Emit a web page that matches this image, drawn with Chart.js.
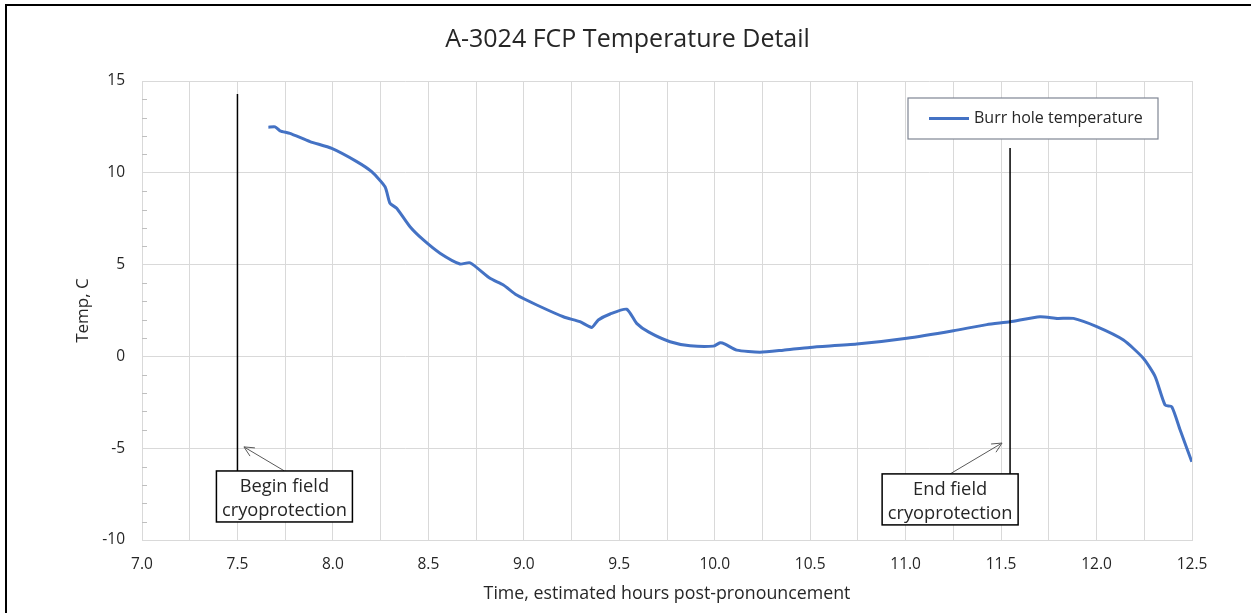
<!DOCTYPE html>
<html>
<head>
    <title>A-3024 FCP Temperature Detail</title>
    <script src="https://cdn.jsdelivr.net/npm/chart.js"></script>
    <style>
        body { margin: 0; background: #fff; overflow: hidden; }
        #frame { position: absolute; left: 5px; top: 4px; width: 1400px; height: 800px;
                 border-left: 2px solid #000; border-top: 2px solid #000; pointer-events: none; }
    </style>
</head>
<body>
    <canvas id="chart" width="1251" height="613"></canvas>
    <div id="frame"></div>

    <script>
// Hours post-pronouncement and burr hole temperature (C)
const hours = [7.662, 7.697, 7.723, 7.775, 7.880, 7.994, 8.125, 8.203, 8.273, 8.299,
    8.334, 8.404, 8.474, 8.561, 8.666, 8.718, 8.823, 8.893, 8.963, 9.068,
    9.207, 9.294, 9.356, 9.390, 9.452, 9.539, 9.591, 9.655, 9.766, 9.871,
    9.993, 10.028, 10.054, 10.115, 10.237, 10.359, 10.499, 10.744, 11.006, 11.250,
    11.425, 11.547, 11.704, 11.795, 11.879, 12.001, 12.141, 12.245, 12.307, 12.359,
    12.394, 12.438, 12.499];
const tempC = [12.48, 12.50, 12.29, 12.15, 11.70, 11.33, 10.61, 10.06, 9.24, 8.34,
    8.07, 7.06, 6.34, 5.62, 5.03, 5.10, 4.25, 3.89, 3.34, 2.80,
    2.16, 1.89, 1.58, 1.98, 2.31, 2.57, 1.80, 1.32, 0.80, 0.58,
    0.56, 0.74, 0.67, 0.34, 0.23, 0.34, 0.49, 0.67, 0.99, 1.40,
    1.73, 1.89, 2.16, 2.07, 2.07, 1.62, 0.89, -0.10, -1.10, -2.65,
    -2.74, -4.01, -5.74];

const xTickLabels = ['7.0', '7.5', '8.0', '8.5', '9.0', '9.5', '10.0', '10.5', '11.0', '11.5', '12.0', '12.5'];
const yTickLabels = ['-10', '-5', '0', '5', '10', '15'];

// Callouts: marker line, arrow tip and box anchor in data units
const calloutText = [['Begin field', 'cryoprotection'], ['End field', 'cryoprotection']];
const calloutLineX = [7.5, 11.547];
const calloutLineTop = [14.29, 11.35];
const calloutArrowX = [7.534, 11.505];
const calloutArrowY = [-4.93, -4.72];
const calloutBoxX = [7.746, 11.233];
const calloutBoxTop = [-6.24, -6.4];

const chartTitle = 'A-3024 FCP Temperature Detail';

const FONT = '"Open Sans", Lato, sans-serif';
const TEXT = '#262626';
const GRID = '#d9d9d9';

function label(list, v) {
    const hit = list.find(s => Math.abs(parseFloat(s) - v) < 1e-6);
    return hit === undefined ? '' : hit;
}

const overlay = {
    id: 'overlay',
    afterDatasetsDraw(chart) {
        const { ctx, chartArea, scales: { x, y } } = chart;
        ctx.save();

        // title
        ctx.fillStyle = TEXT;
        ctx.font = '25px ' + FONT;
        ctx.textAlign = 'center';
        ctx.textBaseline = 'middle';
        ctx.fillText(chartTitle, chart.width / 2 + 2, 40);

        // small inside ticks on the value axis
        ctx.strokeStyle = '#bfbfbf';
        ctx.lineWidth = 1;
        for (let v = -10; v <= 15; v++) {
            if (v % 5 === 0) continue;
            const py = Math.round(y.getPixelForValue(v)) + 0.5;
            ctx.beginPath();
            ctx.moveTo(chartArea.left, py);
            ctx.lineTo(chartArea.left + 5, py);
            ctx.stroke();
        }

        // callouts
        for (let i = 0; i < calloutText.length; i++) {
            const bx = x.getPixelForValue(calloutBoxX[i]);
            const by = y.getPixelForValue(calloutBoxTop[i]);
            const lx = x.getPixelForValue(calloutLineX[i]);
            const w = 136, h = 51;

            ctx.strokeStyle = '#000';
            ctx.lineWidth = 1.5;
            ctx.beginPath();
            ctx.moveTo(lx, y.getPixelForValue(calloutLineTop[i]));
            ctx.lineTo(lx, by);
            ctx.stroke();

            // arrow
            const tx = x.getPixelForValue(calloutArrowX[i]);
            const ty = y.getPixelForValue(calloutArrowY[i]);
            ctx.strokeStyle = '#595959';
            ctx.lineWidth = 1;
            ctx.beginPath();
            ctx.moveTo(bx, by);
            ctx.lineTo(tx, ty);
            const ang = Math.atan2(ty - by, tx - bx);
            ctx.moveTo(tx - 11 * Math.cos(ang - 0.45), ty - 11 * Math.sin(ang - 0.45));
            ctx.lineTo(tx, ty);
            ctx.lineTo(tx - 11 * Math.cos(ang + 0.45), ty - 11 * Math.sin(ang + 0.45));
            ctx.stroke();

            ctx.fillStyle = '#fff';
            ctx.fillRect(bx - w / 2, by, w, h);
            ctx.strokeStyle = '#000';
            ctx.lineWidth = 1.5;
            ctx.strokeRect(bx - w / 2, by, w, h);

            ctx.fillStyle = TEXT;
            ctx.font = '18.3px ' + FONT;
            ctx.textAlign = 'center';
            ctx.textBaseline = 'middle';
            calloutText[i].forEach((t, k) => ctx.fillText(t, bx, by + 16 + k * 24));
        }

        // legend box
        const ds = chart.data.datasets[0];
        const lw = 250, lh = 41;
        const lx0 = chartArea.right - 34 - lw, ly0 = chartArea.top + 17;
        ctx.fillStyle = '#fff';
        ctx.fillRect(lx0, ly0, lw, lh);
        ctx.strokeStyle = '#7f8593';
        ctx.lineWidth = 1.2;
        ctx.strokeRect(lx0, ly0, lw, lh);
        ctx.strokeStyle = ds.borderColor;
        ctx.lineWidth = 3;
        ctx.beginPath();
        ctx.moveTo(lx0 + 21, ly0 + lh / 2);
        ctx.lineTo(lx0 + 61, ly0 + lh / 2);
        ctx.stroke();
        ctx.fillStyle = TEXT;
        ctx.font = '16px ' + FONT;
        ctx.textAlign = 'left';
        ctx.textBaseline = 'middle';
        ctx.fillText(ds.label, lx0 + 66, ly0 + lh / 2);

        ctx.restore();
    }
};

new Chart(document.getElementById('chart').getContext('2d'), {
    type: 'line',
    data: {
        labels: hours,
        datasets: [{
            label: 'Burr hole temperature',
            data: hours.map((h, i) => ({ x: h, y: tempC[i] })),
            borderColor: '#4472C4',
            borderWidth: 3,
            pointRadius: 0,
            tension: 0.2,
            fill: false
        }]
    },
    options: {
        responsive: false,
        animation: false,
        devicePixelRatio: 1,
        layout: { padding: { top: 81, right: 59, left: 0, bottom: 0 } },
        plugins: {
            legend: { display: false },
            tooltip: { enabled: false },
            title: { display: false }
        },
        scales: {
            x: {
                type: 'linear',
                min: 7,
                max: 12.5,
                afterFit: s => { s.height = 73; },
                grid: { color: GRID, drawTicks: false },
                border: { color: GRID },
                ticks: {
                    stepSize: 0.25,
                    autoSkip: false,
                    maxRotation: 0,
                    padding: 15,
                    color: TEXT,
                    font: { family: FONT, size: 15.5 },
                    callback: v => label(xTickLabels, v)
                },
                title: {
                    display: true,
                    text: 'Time, estimated hours post-pronouncement',
                    color: TEXT,
                    font: { family: FONT, size: 17.8 },
                    padding: { top: 0, bottom: 8 }
                }
            },
            y: {
                min: -10,
                max: 15,
                afterFit: s => { s.width = 142; },
                grid: {
                    drawTicks: false,
                    color: c => (c.tick && c.tick.value % 5 === 0) ? GRID : 'rgba(0,0,0,0)'
                },
                border: { color: GRID },
                ticks: {
                    stepSize: 1,
                    autoSkip: false,
                    padding: 17,
                    color: TEXT,
                    font: { family: FONT, size: 15.5 },
                    callback: v => label(yTickLabels, v)
                },
                title: {
                    display: true,
                    text: 'Temp, C',
                    color: TEXT,
                    font: { family: FONT, size: 17 },
                    padding: { top: 73, bottom: 0 }
                }
            }
        }
    },
    plugins: [overlay]
});
    </script>
</body>
</html>
